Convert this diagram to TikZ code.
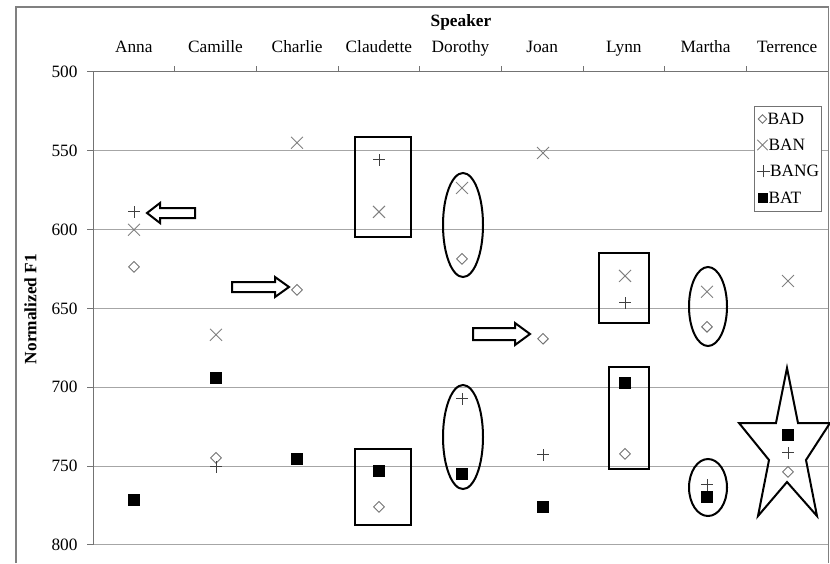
\documentclass[tikz,border=0pt]{standalone}
\usepackage{fontspec}
\setmainfont{Liberation Serif}
\usetikzlibrary{shapes.geometric,shapes.misc}

\tikzset{
  bad mark/.style={diamond, draw=black!55, line width=0.9pt, inner sep=0pt,
                   minimum width=11pt, minimum height=11pt},
  ban mark/.style={cross out, draw=black!50, line width=0.9pt, inner sep=0pt,
                   minimum size=11pt},
  bang mark/.style={cross out, rotate=45, draw=black!75, line width=0.9pt,
                    inner sep=0pt, minimum size=7.5pt},
  bat mark/.style={rectangle, fill=black, inner sep=0pt, minimum size=12.5pt},
}

\begin{document}
\begin{tikzpicture}[x=1pt, y=-1pt, line width=1pt,
    every node/.append style={font=\fontsize{17.3}{20}\selectfont},
    hilite/.style={draw=black, line width=2pt},
    fat arrow/.style={draw=black, fill=white, line width=2pt, line join=miter}]

    \useasboundingbox (0,0) rectangle (830,563);

    % -- Cornice del grafico --
    \draw[black!50, line width=1.2pt] (16,563) -- (16,7) -- (828.5,7) -- (828.5,563);

    % -- Titoli --
    \node[anchor=base, font=\fontsize{17.3}{20}\selectfont\bfseries] (speaker) at (461,26) {Speaker};
    \node[rotate=90, font=\fontsize{17.3}{20}\selectfont\bfseries] (ylabel) at (30.5,309) {Normalized F1};

    % -- Asse superiore: parlanti --
    \foreach \i in {1,...,8}
        \draw[black!55] ({93+81.67*\i},72) -- ({93+81.67*\i},66);
    \foreach \name [count=\i] in {Anna,Camille,Charlie,Claudette,Dorothy,Joan,Lynn,Martha,Terrence}
        \node[anchor=base] (spk\i) at ({93+81.67*(\i-0.5)},52) {\name};

    % -- Area dati in unita' F1 --
    \begin{scope}[y=-1.5767pt, yshift=716.5pt]
        \foreach \v in {550,600,...,800}
            \draw[black!35] (93,\v) -- (828,\v);
        \draw[black!55] (87,500) -- (828,500);
        \draw[black!55] (93,500) -- (93,800);
        \foreach \v in {500,550,...,800} {
            \draw[black!55] (87,\v) -- (93,\v);
            \node[anchor=east, inner sep=0pt] (tick\v) at (78,\v) {\v};
        }

        % BAD
        \foreach \who/\xc/\v in {anna/134/623.7, camille/216/744.8, charlie/297/638.3,
                claudette/379/775.9, dorothy/462/618.6, joan/543/669.3,
                lynn/625/742.3, martha/707/661.7, terrence/788/753.7}
            \node[bad mark] (\who-bad) at (\xc,\v) {};
        % BAN
        \foreach \who/\xc/\v in {anna/134/600.2, camille/216/666.8, charlie/297/545.0,
                claudette/379/588.8, dorothy/462/573.6, joan/543/551.4,
                lynn/625/629.4, martha/707/639.5, terrence/788/632.6}
            \node[ban mark] (\who-ban) at (\xc,\v) {};
        % BANG
        \foreach \who/\xc/\v in {anna/134/588.8, camille/216/750.5,
                claudette/379/555.8, dorothy/462/707.4, joan/543/742.9,
                lynn/625/646.5, martha/707/761.9, terrence/788/741.6}
            \node[bang mark] (\who-bang) at (\xc,\v) {};
        % BAT
        \foreach \who/\xc/\v in {anna/134/771.4, camille/216/694.1, charlie/297/745.4,
                claudette/379/753.0, dorothy/462/755.0, joan/543/775.9,
                lynn/625/697.2, martha/707/769.5, terrence/788/730.2}
            \node[bat mark] (\who-bat) at (\xc,\v) {};
    \end{scope}

    % -- Evidenziazioni --
    \draw[hilite] (355,137) rectangle (411,237);
    \draw[hilite] (355,449) rectangle (411,525);
    \draw[hilite] (463,225) ellipse [x radius=20, y radius=52];
    \draw[hilite] (463,437) ellipse [x radius=20, y radius=52];
    \draw[hilite] (599,253) rectangle (649,323);
    \draw[hilite] (609,367) rectangle (649,469);
    \draw[hilite] (708,306.5) ellipse [x radius=19, y radius=39.5];
    \draw[hilite] (708,487.5) ellipse [x radius=19, y radius=28.5];
    \draw[hilite, line join=miter] (787,368) -- (798,423) -- (830,423) -- (806,460)
          -- (817,516) -- (787,482) -- (758,516) -- (769,460) -- (739,423) -- (776,423) -- cycle;

    % -- Frecce --
    \draw[fat arrow] (195,208) -- (160,208) -- (160,203) -- (147,213)
                     -- (160,223) -- (160,218) -- (195,218) -- cycle;
    \draw[fat arrow] (232,282) -- (275,282) -- (275,277) -- (289,287)
                     -- (275,297) -- (275,292) -- (232,292) -- cycle;
    \draw[fat arrow] (473,328) -- (515,328) -- (515,323) -- (530,334)
                     -- (515,345) -- (515,340) -- (473,340) -- cycle;

    % -- Legenda --
    \node[draw=black!55, fill=white, line width=1pt, inner sep=0pt,
          minimum width=67pt, minimum height=105pt] (legend) at (787.5,158.5) {};
    \node[bad mark, minimum width=9pt, minimum height=9pt] (leg-bad) at (762.5,119) {};
    \node[ban mark, minimum size=9.5pt] (leg-ban) at (762.5,145) {};
    \node[bang mark, minimum size=8pt] (leg-bang) at (763.5,171) {};
    \node[bat mark, minimum size=10pt] (leg-bat) at (763,198) {};
    \node[anchor=west, inner sep=0pt] (txt-bad) at (767,119) {BAD};
    \node[anchor=west, inner sep=0pt] (txt-ban) at (768,145) {BAN};
    \node[anchor=west, inner sep=0pt] (txt-bang) at (769.5,171) {BANG};
    \node[anchor=west, inner sep=0pt] (txt-bat) at (768,198) {BAT};

\end{tikzpicture}
\end{document}
